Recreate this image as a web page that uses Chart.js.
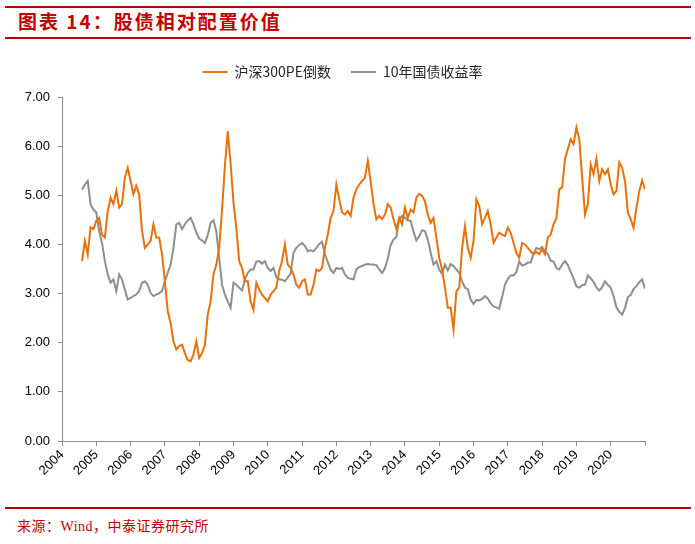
<!DOCTYPE html>
<html>
<head>
<meta charset="utf-8">
<script src="https://cdn.jsdelivr.net/npm/chart.js@4/dist/chart.umd.min.js"></script>
<style>
  html, body { margin: 0; padding: 0; background: #fff; }
  body { width: 695px; height: 544px; position: relative; overflow: hidden; }
  .rule { position: absolute; left: 5px; width: 686px; height: 2px; background: #C00000; }
  #title { position: absolute; left: 18px; top: 10px; font: bold 19px "Noto Sans CJK SC", sans-serif; letter-spacing: 2px; line-height: 22px; color: #C00000; white-space: nowrap; }
  #source { position: absolute; left: 17px; top: 519px; font: 14px "Liberation Serif", "Noto Sans CJK SC", serif; letter-spacing: 0.5px; line-height: 16px; color: #C00000; white-space: nowrap; }
  #wrap { position: absolute; left: 0; top: 45px; width: 695px; height: 455px; }
</style>
</head>
<body>
<div class="rule" style="top:6px"></div>
<div id="title">图表 14：股债相对配置价值</div>
<div class="rule" style="top:37px"></div>
<div id="wrap"><canvas id="c"></canvas></div>
<div class="rule" style="top:507px"></div>
<div id="source">来源：Wind，中泰证券研究所</div>
<script>
// Monthly observation dates (categories), Aug 2004 – Jan 2021
const months = [];
for (let y = 2004, m = 8; y < 2021 || (y === 2021 && m <= 1);) {
  months.push(y + '-' + String(m).padStart(2, '0'));
  m++; if (m > 12) { m = 1; y++; }
}
const seriesNames = ['沪深300PE倒数', '10年国债收益率'];
const yearLabels = ['2004','2005','2006','2007','2008','2009','2010','2011','2012','2013','2014','2015','2016','2017','2018','2019','2020'];

// 沪深300PE倒数 (%)
const peInverse = [
  3.66, 4.07, 3.80, 4.35, 4.31,
  4.48, 4.54, 4.20, 4.14, 4.68, 4.95, 4.82, 5.09, 4.75, 4.82, 5.36, 5.56,
  5.29, 5.02, 5.19, 5.02, 4.27, 3.93, 4.00, 4.07, 4.41, 4.14, 4.14, 3.80,
  3.25, 2.64, 2.40, 2.03, 1.86, 1.93, 1.96, 1.79, 1.65, 1.62, 1.76, 2.03,
  1.69, 1.79, 1.96, 2.57, 2.84, 3.39, 3.59, 3.93, 4.70, 5.60, 6.30, 5.65,
  4.85, 4.34, 3.66, 3.52, 3.25, 3.25, 2.84, 2.67, 3.22, 3.08, 2.98, 2.91,
  2.84, 2.98, 3.05, 3.12, 3.46, 3.66, 4.00, 3.59, 3.52, 3.39, 3.18, 3.12,
  3.25, 3.29, 2.98, 2.98, 3.18, 3.49, 3.46, 3.52, 3.93, 4.20, 4.54, 4.68,
  5.22, 4.92, 4.65, 4.61, 4.68, 4.58, 4.95, 5.12, 5.22, 5.29, 5.36, 5.70,
  5.29, 4.82, 4.51, 4.58, 4.51, 4.61, 4.82, 4.75, 4.51, 4.31, 4.54, 4.41,
  4.75, 4.54, 4.71, 4.65, 4.95, 5.03, 4.99, 4.88, 4.61, 4.44, 4.54, 4.14,
  3.73, 3.49, 3.12, 2.71, 2.71, 2.27, 3.05, 3.12, 3.93, 4.37, 3.93, 3.73,
  4.07, 4.92, 4.78, 4.41, 4.54, 4.68, 4.41, 4.03, 4.14, 4.24, 4.20, 4.17,
  4.34, 4.24, 4.03, 3.83, 3.73, 4.03, 4.00, 3.93, 3.86, 3.80, 3.85, 3.80,
  3.90, 3.80, 4.14, 4.20, 4.41, 4.54, 5.12, 5.16, 5.74, 5.94, 6.14, 6.04,
  6.38, 6.14, 5.36, 4.61, 4.82, 5.63, 5.43, 5.74, 5.29, 5.53, 5.43, 5.53,
  5.22, 5.02, 5.09, 5.67, 5.56, 5.29, 4.65, 4.51, 4.34, 4.75, 5.09, 5.30,
  5.12
];

// 10年国债收益率 (%)
const bondYield = [
  5.12, 5.22, 5.29, 4.82, 4.71,
  4.65, 4.27, 4.03, 3.66, 3.39, 3.22, 3.29, 3.05, 3.39, 3.29, 3.08, 2.88,
  2.91, 2.95, 2.98, 3.05, 3.22, 3.25, 3.18, 3.01, 2.95, 2.98, 3.01, 3.05,
  3.25, 3.42, 3.59, 3.93, 4.41, 4.44, 4.31, 4.41, 4.49, 4.54, 4.41, 4.24,
  4.12, 4.08, 4.03, 4.19, 4.44, 4.49, 4.27, 3.73, 3.18, 2.98, 2.84, 2.71,
  3.22, 3.18, 3.12, 3.06, 3.29, 3.42, 3.49, 3.49, 3.65, 3.66, 3.61, 3.66,
  3.52, 3.46, 3.52, 3.33, 3.29, 3.28, 3.25, 3.33, 3.40, 3.83, 3.93, 3.99,
  4.03, 3.97, 3.86, 3.88, 3.86, 3.93, 4.01, 4.05, 3.80, 3.64, 3.49, 3.42,
  3.52, 3.50, 3.52, 3.39, 3.32, 3.30, 3.29, 3.49, 3.54, 3.56, 3.59, 3.60,
  3.59, 3.59, 3.58, 3.49, 3.42, 3.52, 3.71, 3.99, 4.10, 4.15, 4.51, 4.58,
  4.54, 4.49, 4.48, 4.26, 4.08, 4.17, 4.29, 4.27, 4.10, 3.83, 3.59, 3.66,
  3.49, 3.40, 3.59, 3.47, 3.60, 3.56, 3.49, 3.42, 3.25, 3.12, 3.09, 2.88,
  2.79, 2.87, 2.86, 2.89, 2.95, 2.90, 2.80, 2.74, 2.72, 2.69, 2.93, 3.18,
  3.30, 3.37, 3.37, 3.44, 3.65, 3.57, 3.59, 3.63, 3.63, 3.81, 3.93, 3.90,
  3.95, 3.86, 3.81, 3.67, 3.65, 3.52, 3.49, 3.59, 3.66, 3.58, 3.44, 3.31,
  3.15, 3.12, 3.17, 3.18, 3.37, 3.31, 3.24, 3.12, 3.06, 3.13, 3.25, 3.18,
  3.12, 2.95, 2.72, 2.63, 2.57, 2.71, 2.93, 2.97, 3.09, 3.15, 3.23, 3.29,
  3.10
];

const toX = s => +s.slice(0, 4) + (+s.slice(5) - 1) / 12;
const pts = arr => months.map((mm, i) => ({ x: toX(mm), y: arr[i] }));

// Add a little room below the legend so the plot starts where the reference does
const legendGap = {
  id: 'legendGap',
  beforeInit(chart) {
    const lg = chart.legend;
    if (!lg) return;
    const origFit = lg.fit;
    lg.fit = function () { origFit.call(this); this.height += 8; };
  }
};

const axisColor = '#8c8c8c';
new Chart(document.getElementById('c'), {
  type: 'line',
  data: {
    datasets: [
      { label: seriesNames[0], data: pts(peInverse), borderColor: '#E8710A', backgroundColor: '#E8710A', borderWidth: 2, pointRadius: 0, tension: 0 },
      { label: seriesNames[1], data: pts(bondYield), borderColor: '#8E8E8E', backgroundColor: '#8E8E8E', borderWidth: 2, pointRadius: 0, tension: 0 }
    ]
  },
  plugins: [legendGap],
  options: {
    responsive: true,
    maintainAspectRatio: false,
    animation: false,
    events: [],
    layout: { padding: { left: 0, right: 10, top: 0, bottom: 0 } },
    plugins: {
      tooltip: { enabled: false },
      legend: {
        display: true,
        position: 'top',
        labels: {
          usePointStyle: true,
          pointStyle: 'line',
          pointStyleWidth: 25,
          boxHeight: 14,
          padding: 20,
          color: '#262626',
          font: { family: '"Noto Sans CJK SC", "Liberation Sans", sans-serif', size: 14 }
        }
      }
    },
    scales: {
      x: {
        type: 'linear',
        min: 2004,
        max: 2021,
        afterFit: s => { s.height = 59; },
        afterBuildTicks: s => { s.ticks = []; for (let y = 2004; y <= 2021; y++) s.ticks.push({ value: y }); },
        ticks: {
          autoSkip: false,
          maxRotation: 45,
          minRotation: 45,
          padding: 1,
          color: '#000',
          font: { family: '"Liberation Sans", Arial, sans-serif', size: 13 },
          callback: v => yearLabels[Math.round(v) - 2004] ?? ''
        },
        grid: { display: true, drawOnChartArea: false, drawTicks: true, tickLength: 5, color: axisColor },
        border: { display: true, color: axisColor, width: 1 }
      },
      y: {
        min: 0,
        max: 7,
        afterFit: s => { s.width = 62; },
        ticks: {
          stepSize: 1,
          padding: 8,
          color: '#000',
          font: { family: '"Liberation Sans", Arial, sans-serif', size: 13 },
          callback: v => Number(v).toFixed(2)
        },
        grid: { display: true, drawOnChartArea: false, drawTicks: true, tickLength: 4, color: axisColor },
        border: { display: true, color: axisColor, width: 1 }
      },
      yRight: {
        position: 'right',
        min: 0,
        max: 7,
        display: true,
        afterFit: s => { s.width = 40; },
        ticks: { display: false },
        grid: { display: false, drawTicks: false },
        border: { display: false }
      }
    }
  }
});
</script>
</body>
</html>
